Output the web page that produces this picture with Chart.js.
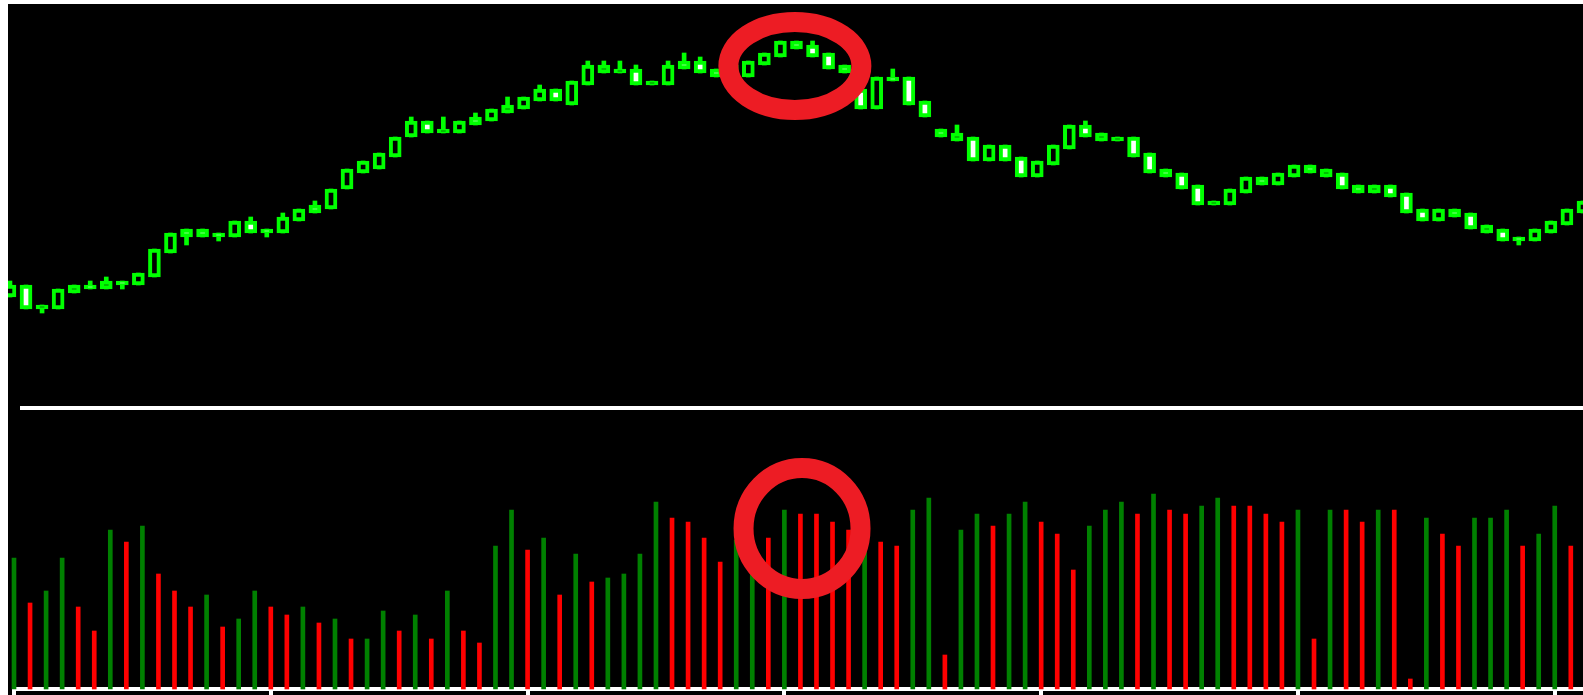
<!DOCTYPE html>
<html lang="en">
  <head>
    <meta charset="utf-8" />
    <title>Candles and volume</title>
    <style>
      html, body { margin: 0; padding: 0; background: #fff; }
      body { width: 1583px; height: 695px; position: relative; overflow: hidden; }
      canvas { position: absolute; left: 8px; background: #000; display: block; }
      #price { top: 4px; }
      #volume { top: 410px; }
    </style>
  </head>
  <body>
    <canvas id="price" width="1575" height="406"></canvas>
    <canvas id="volume" width="1575" height="285"></canvas>

    <script src="https://cdn.jsdelivr.net/npm/chart.js@4.4.1/dist/chart.umd.min.js"></script>

    <script>
      // one entry per session
      const opens = [28, 31, 25, 25, 29, 31, 30, 32, 31, 33, 39, 45, 45, 44, 43, 47, 45, 44, 47, 51,
        50, 55, 59, 60, 63, 68, 72, 69, 69, 73, 72, 74, 75, 77, 80, 76, 81, 84, 84, 85,
        81, 81, 87, 87, 85, 84, 83, 86, 88, 92, 91, 89, 86, 80, 75, 83, 83, 77, 70, 67,
        68, 62, 66, 63, 58, 61, 65, 71, 67, 67, 68, 64, 60, 59, 56, 51, 51, 54, 58, 56,
        58, 61, 58, 59, 56, 54, 56, 54, 50, 47, 50, 49, 44, 45, 43, 42, 44, 46, 49];
      const highs = [32, 31, 26, 30, 31, 32, 33, 32, 34, 40, 44, 45, 45, 44, 47, 48, 45, 49, 50, 52,
        55, 60, 62, 64, 68, 73, 72, 73, 72, 74, 75, 78, 78, 81, 80, 82, 87, 87, 87, 86,
        82, 87, 89, 88, 85, 86, 87, 89, 92, 92, 92, 89, 86, 80, 83, 85, 83, 77, 70, 71,
        68, 66, 66, 63, 62, 66, 71, 72, 69, 68, 68, 64, 60, 59, 56, 52, 55, 58, 58, 59,
        61, 61, 60, 59, 56, 56, 56, 54, 50, 50, 50, 49, 46, 45, 43, 45, 47, 50, 52];
      const lows = [28, 25, 24, 25, 29, 30, 30, 30, 31, 33, 39, 41, 43, 42, 43, 44, 43, 44, 47, 49,
        50, 55, 59, 60, 63, 68, 69, 69, 69, 71, 72, 74, 75, 77, 77, 76, 81, 84, 84, 81,
        81, 81, 85, 84, 83, 84, 83, 86, 88, 90, 88, 85, 84, 75, 75, 82, 76, 73, 68, 67,
        62, 62, 62, 58, 58, 61, 65, 68, 67, 67, 63, 59, 58, 55, 51, 51, 51, 54, 56, 56,
        58, 59, 58, 55, 54, 54, 53, 49, 47, 47, 48, 45, 44, 42, 41, 42, 44, 46, 49];
      const closes = [31, 25, 26, 30, 31, 30, 32, 31, 34, 40, 44, 43, 43, 43, 47, 44, 44, 48, 50, 49,
        55, 60, 62, 64, 68, 72, 69, 70, 72, 71, 75, 76, 78, 80, 77, 82, 86, 86, 85, 81,
        82, 86, 85, 84, 83, 86, 87, 89, 92, 90, 88, 85, 84, 75, 83, 82, 76, 73, 68, 69,
        62, 66, 62, 58, 62, 66, 71, 68, 69, 68, 63, 59, 58, 55, 51, 52, 55, 58, 56, 59,
        61, 59, 60, 55, 54, 56, 53, 49, 47, 50, 48, 45, 46, 42, 42, 45, 47, 50, 52];
      const volumes = [13100, 8600, 9800, 13100, 8200, 5800, 15900, 14700, 16300, 11500,
        9800, 8200, 9400, 6200, 7000, 9800, 8200, 7400, 8200, 6600,
        7000, 5000, 5000, 7800, 5800, 7400, 5000, 9800, 5800, 4600,
        14300, 17900, 13900, 15100, 9400, 13500, 10700, 11100, 11500, 13500,
        18700, 17100, 16700, 15100, 12700, 14900, 12900, 15100, 17900, 17500,
        17500, 16700, 15900, 15900, 14700, 14300, 17900, 19100, 3400, 15900,
        17500, 16300, 17500, 18700, 16700, 15500, 11900, 16300, 17900, 18700,
        17500, 19500, 17900, 17500, 18300, 19100, 18300, 18300, 17500, 16700,
        17900, 5000, 17900, 17900, 16700, 17900, 17900, 1000, 17100, 15500,
        14300, 17100, 17100, 17900, 14300, 15500, 18300, 14300, 15000];
      const volumeRising = [1, 0, 1, 1, 0, 0, 1, 0, 1, 0, 0, 0, 1, 0, 1, 1, 0, 0, 1, 0,
        1, 0, 1, 1, 0, 1, 0, 1, 0, 0, 1, 1, 0, 1, 0, 1, 0, 1, 1, 1,
        1, 0, 0, 0, 0, 1, 1, 0, 1, 0, 0, 0, 0, 1, 0, 0, 1, 1, 0, 1,
        1, 0, 1, 1, 0, 0, 0, 1, 1, 1, 0, 1, 0, 0, 1, 1, 0, 0, 0, 0,
        1, 0, 1, 0, 0, 1, 0, 0, 1, 0, 0, 1, 1, 1, 0, 1, 1, 0, 1];

      // the session that is circled in both panes
      const markSession = 49;
      const markPrice = 85.75;
      const markVolume = 16050;

      const idx = opens.map((_, i) => i);
      const candleBodies = idx.map(i => ({ x: i, y: [opens[i], closes[i]] }));
      const candleWicks = idx.map(i => ({ x: i, y: [lows[i], highs[i]] }));
      const bodyFill = idx.map(i => closes[i] >= opens[i] ? '#000000' : '#ffffff');
      const volumeBars = idx.map(i => ({ x: i, y: volumes[i] }));
      const volumeColors = volumeRising.map(up => up ? '#008000' : '#ff0000');

      function ring(id, xValue, yValue, rx, ry) {
        return {
          id: id,
          afterDraw(chart) {
            const ctx = chart.ctx;
            const cx = chart.scales.x.getPixelForValue(xValue);
            const cy = chart.scales.y.getPixelForValue(yValue);
            ctx.save();
            ctx.strokeStyle = '#ed1c24';
            ctx.lineWidth = 20;
            ctx.beginPath();
            ctx.ellipse(cx, cy, rx, ry, 0, 0, Math.PI * 2);
            ctx.stroke();
            ctx.restore();
          }
        };
      }

      Chart.defaults.plugins.legend.display = false;
      Chart.defaults.plugins.tooltip.enabled = false;
      Chart.defaults.animation = false;

      new Chart(document.getElementById('price'), {
        type: 'bar',
        data: {
          datasets: [{
            data: candleBodies,
            backgroundColor: bodyFill,
            borderColor: '#00ff00',
            borderWidth: 4,
            borderSkipped: false,
            barThickness: 12,
            grouped: false,
            order: 0,
            clip: false
          }, {
            data: candleWicks,
            backgroundColor: '#00ff00',
            borderWidth: 0,
            barThickness: 4,
            grouped: false,
            order: 1,
            clip: false
          }]
        },
        options: {
          responsive: false,
          layout: { padding: { left: 14, right: 0, top: 0, bottom: 2 } },
          scales: {
            x: {
              type: 'linear',
              min: 0.75,
              max: 98,
              offset: false,
              grid: { display: false, drawTicks: false, offset: false },
              ticks: { display: false },
              border: { display: true, color: '#ffffff', width: 4 }
            },
            y: {
              display: false,
              min: 0.25,
              max: 101.25
            }
          }
        },
        plugins: [ring('priceRing', markSession - 0.1, markPrice, 66.5, 44)]
      });

      new Chart(document.getElementById('volume'), {
        type: 'bar',
        data: {
          datasets: [{
            data: volumeBars,
            backgroundColor: volumeColors,
            borderWidth: 0,
            barThickness: 4,
            clip: false
          }]
        },
        options: {
          responsive: false,
          layout: { padding: { left: 6, right: 0, top: 0, bottom: 0 } },
          scales: {
            x: {
              type: 'linear',
              min: 0,
              max: 97.76,
              offset: false,
              z: 1,
              grid: {
                display: true,
                drawOnChartArea: false,
                drawTicks: true,
                tickLength: 6,
                tickWidth: 4,
                lineWidth: 4,
                color: '#ffffff',
                offset: false
              },
              ticks: { display: false, stepSize: 16, includeBounds: false },
              border: { display: true, color: '#ffffff', width: 4 }
            },
            y: {
              display: false,
              min: 0,
              max: 27900
            }
          }
        },
        plugins: [ring('volumeRing', markSession + 0.1, markVolume, 58.5, 60.5)]
      });
    </script>
  </body>
</html>
